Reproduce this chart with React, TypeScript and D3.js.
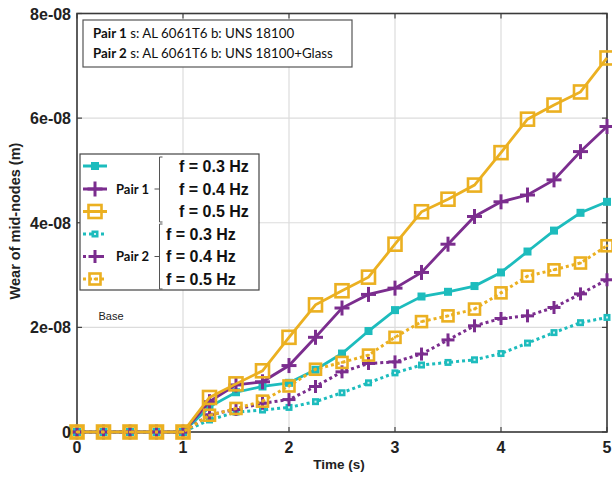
import React from "react";
import * as d3 from "d3";

const time = [0, 0.25, 0.5, 0.75, 1, 1.25, 1.5, 1.75, 2, 2.25, 2.5, 2.75, 3, 3.25, 3.5, 3.75, 4, 4.25, 4.5, 4.75, 5];
// values in units of 1e-8 m
const p1f03 = [0, 0, 0, 0, 0, 0.48, 0.76, 0.87, 0.94, 1.19, 1.5, 1.93, 2.33, 2.59, 2.68, 2.79, 3.05, 3.45, 3.85, 4.19, 4.4];
const p1f04 = [0, 0, 0, 0, 0, 0.58, 0.9, 0.96, 1.27, 1.81, 2.37, 2.63, 2.75, 3.05, 3.59, 4.12, 4.4, 4.53, 4.82, 5.36, 5.84];
const p1f05 = [0, 0, 0, 0, 0, 0.66, 0.92, 1.17, 1.81, 2.43, 2.7, 2.96, 3.59, 4.21, 4.45, 4.72, 5.34, 5.98, 6.25, 6.5, 7.15];
const p2f03 = [0, 0, 0, 0, 0, 0.23, 0.38, 0.42, 0.47, 0.58, 0.75, 0.94, 1.13, 1.28, 1.33, 1.38, 1.5, 1.7, 1.9, 2.09, 2.19];
const p2f04 = [0, 0, 0, 0, 0, 0.33, 0.43, 0.55, 0.62, 0.87, 1.15, 1.31, 1.34, 1.49, 1.76, 2.03, 2.17, 2.22, 2.38, 2.64, 2.91];
const p2f05 = [0, 0, 0, 0, 0, 0.32, 0.45, 0.59, 0.88, 1.2, 1.33, 1.47, 1.81, 2.11, 2.22, 2.35, 2.66, 2.98, 3.1, 3.23, 3.56];

const xTicks = [0, 1, 2, 3, 4, 5];
const yTicks = [0, 2e-8, 4e-8, 6e-8, 8e-8];
const freqLabels = ["f = 0.3 Hz", "f = 0.4 Hz", "f = 0.5 Hz"];
const pairLabels = ["Pair 1", "Pair 2"];
const infoLines = [
  { bold: "Pair 1", rest: " s: AL 6061T6 b: UNS 18100" },
  { bold: "Pair 2", rest: " s: AL 6061T6 b: UNS 18100+Glass" },
];

const TEAL = "#1dbcbd";
const PURPLE = "#7b2d8e";
const ORANGE = "#ebb021";

type Marker = "fsq" | "plus" | "osq" | "fsqdot" | "plusd" | "osqdot";
const series: { vals: number[]; color: string; dotted: boolean; marker: Marker }[] = [
  { vals: p1f03, color: TEAL, dotted: false, marker: "fsq" },
  { vals: p1f04, color: PURPLE, dotted: false, marker: "plus" },
  { vals: p1f05, color: ORANGE, dotted: false, marker: "osq" },
  { vals: p2f03, color: TEAL, dotted: true, marker: "fsqdot" },
  { vals: p2f04, color: PURPLE, dotted: true, marker: "plusd" },
  { vals: p2f05, color: ORANGE, dotted: true, marker: "osqdot" },
];

const W = 612, H = 477;
const L = 77, R = 607, T = 13.5, B = 432;

function MarkerShape({ m, x, y, c }: { m: Marker; x: number; y: number; c: string }) {
  switch (m) {
    case "fsq":
      return <rect x={x - 4} y={y - 4} width={8} height={8} fill={c} />;
    case "fsqdot":
      return (
        <g>
          <rect x={x - 3.5} y={y - 3.5} width={7} height={7} fill={c} />
          <rect x={x - 1} y={y - 1} width={2} height={2} fill="#cfeff0" />
        </g>
      );
    case "plus":
      return (
        <g stroke={c} strokeWidth={3}>
          <line x1={x - 7.5} x2={x + 7.5} y1={y} y2={y} />
          <line x1={x} x2={x} y1={y - 7.5} y2={y + 7.5} />
        </g>
      );
    case "plusd":
      return (
        <g stroke={c} strokeWidth={3}>
          <line x1={x - 6.5} x2={x + 6.5} y1={y} y2={y} />
          <line x1={x} x2={x} y1={y - 6.5} y2={y + 6.5} />
        </g>
      );
    case "osq":
      return <rect x={x - 6.5} y={y - 6.5} width={13} height={13} fill="none" stroke={c} strokeWidth={2.6} />;
    case "osqdot":
      return (
        <g>
          <rect x={x - 5.5} y={y - 5.5} width={11} height={11} fill="none" stroke={c} strokeWidth={2.6} />
          <rect x={x - 1.2} y={y - 1.2} width={2.4} height={2.4} fill={c} />
        </g>
      );
  }
}

export default function App() {
  const x = d3.scaleLinear().domain([0, 5]).range([L, R]);
  const y = d3.scaleLinear().domain([0, 8e-8]).range([B, T]);
  const line = d3
    .line<number>()
    .x((_, i) => x(time[i]))
    .y((d) => y(d * 1e-8));
  const fmtY = (v: number) => (v === 0 ? "0" : `${Math.round(v * 1e8)}e-08`);

  const legRows = [166, 189, 211.5, 234, 256.5, 279];
  const sansB = "'Liberation Sans', Arial, sans-serif";
  const cal = "Lato, 'Open Sans', sans-serif";

  return (
    <svg width={W} height={H} style={{ position: "absolute", left: 0, top: 0, background: "#fff" }}>
      {/* grid */}
      <g stroke="#dcdcdc" strokeWidth={1.2}>
        {xTicks.map((t) => (
          <line key={"gx" + t} x1={x(t)} x2={x(t)} y1={T} y2={B} />
        ))}
        {yTicks.map((t) => (
          <line key={"gy" + t} x1={L} x2={R} y1={y(t)} y2={y(t)} />
        ))}
      </g>
      {/* ticks */}
      <g stroke="#444" strokeWidth={1.2}>
        {xTicks.map((t) => (
          <g key={"tx" + t}>
            <line x1={x(t)} x2={x(t)} y1={B} y2={B - 5} />
            <line x1={x(t)} x2={x(t)} y1={T} y2={T + 5} />
          </g>
        ))}
        {yTicks.map((t) => (
          <g key={"ty" + t}>
            <line x1={L} x2={L + 5} y1={y(t)} y2={y(t)} />
            <line x1={R} x2={R - 5} y1={y(t)} y2={y(t)} />
          </g>
        ))}
      </g>
      <rect x={L} y={T} width={R - L} height={B - T} fill="none" stroke="#3a3a3a" strokeWidth={1.6} />
      {/* series */}
      {series.map((s, si) => (
        <g key={"s" + si}>
          <path
            d={line(s.vals) || ""}
            fill="none"
            stroke={s.color}
            strokeWidth={s.dotted ? 3 : 2.8}
            strokeDasharray={s.dotted ? "3,3" : undefined}
          />
          {s.vals.map((v, i) => (
            <MarkerShape key={i} m={s.marker} x={x(time[i])} y={y(v * 1e-8)} c={s.color} />
          ))}
        </g>
      ))}
      {/* axis labels */}
      <g fontFamily={sansB} fontWeight="bold" fontSize={16} fill="#222">
        {xTicks.map((t) => (
          <text key={"lx" + t} x={x(t)} y={453} textAnchor="middle">
            {t}
          </text>
        ))}
        {yTicks.map((t) => (
          <text key={"ly" + t} x={71} y={y(t) + 6} textAnchor="end">
            {fmtY(t)}
          </text>
        ))}
      </g>
      <text x={339} y={469} textAnchor="middle" fontFamily={sansB} fontWeight="bold" fontSize={13.5} fill="#222">
        Time (s)
      </text>
      <text
        transform={`translate(20,221) rotate(-90)`}
        textAnchor="middle"
        fontFamily={sansB}
        fontWeight="bold"
        fontSize={14.5}
        fill="#222"
      >
        Wear of mid-nodes (m)
      </text>
      {/* info box */}
      <rect x={83} y={20} width={269} height={47} fill="#fff" stroke="#555" strokeWidth={1.2} />
      {infoLines.map((ln, i) => (
        <text key={"info" + i} x={93} y={37.5 + i * 20} fontFamily={cal} fontSize={13.3} fill="#111">
          <tspan fontWeight="bold">{ln.bold}</tspan>
          {ln.rest}
        </text>
      ))}
      {/* legend */}
      <rect x={80} y={154} width={179} height={136} fill="#fff" stroke="#444" strokeWidth={1.2} />
      {series.map((s, i) => (
        <g key={"leg" + i}>
          <line
            x1={83}
            x2={107}
            y1={legRows[i]}
            y2={legRows[i]}
            stroke={s.color}
            strokeWidth={3}
            strokeDasharray={s.dotted ? "3,3" : undefined}
          />
          <MarkerShape m={s.marker} x={95} y={legRows[i]} c={s.color} />
          <text
            x={i < 3 ? 179 : 166}
            y={legRows[i] + 5.5}
            fontFamily={sansB}
            fontWeight="bold"
            fontSize={16}
            fill="#111"
          >
            {freqLabels[i % 3]}
          </text>
        </g>
      ))}
      {pairLabels.map((p, i) => {
        const cy = legRows[1 + i * 3];
        const y0 = i === 0 ? 157 : 224;
        const y1 = i === 0 ? 222 : 289;
        const bx = 159.5;
        return (
          <g key={"pair" + i}>
            <text x={116} y={cy + 4.5} fontFamily={cal} fontWeight="bold" fontSize={13} fill="#111">
              {p}
            </text>
            <path
              d={`M${bx + 3},${y0} L${bx},${y0} L${bx},${y1} L${bx + 3},${y1} M${bx - 5},${cy} L${bx},${cy}`}
              fill="none"
              stroke="#555"
              strokeWidth={1}
            />
          </g>
        );
      })}
      <text x={111} y={320} textAnchor="middle" fontFamily={sansB} fontSize={11} fill="#222">
        Base
      </text>
    </svg>
  );
}
